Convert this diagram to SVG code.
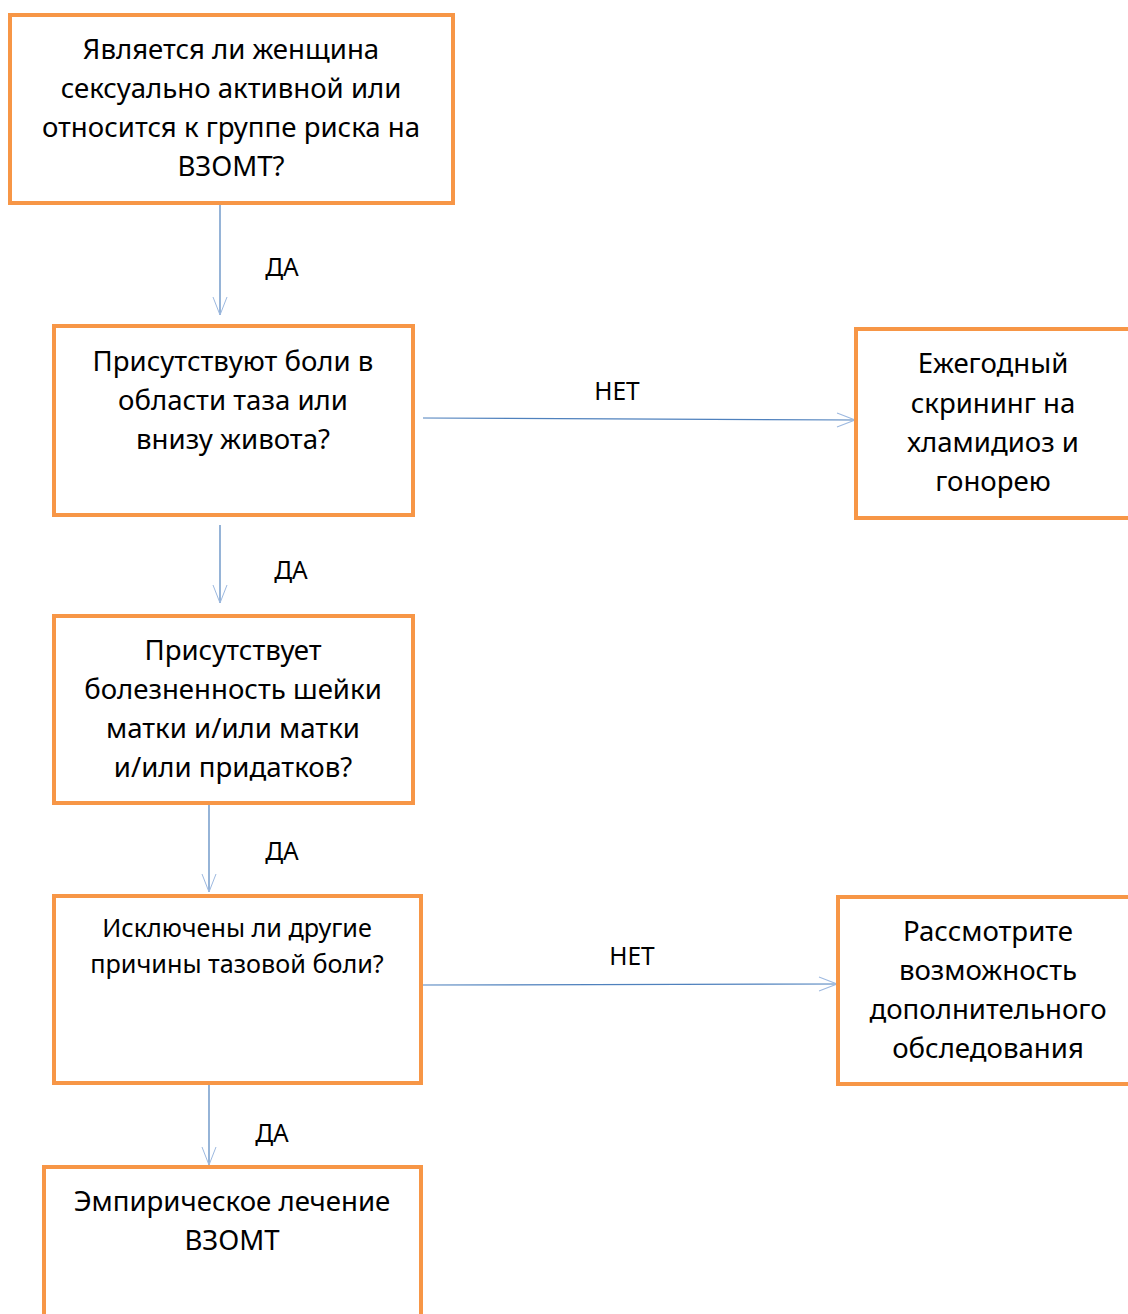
<svg xmlns="http://www.w3.org/2000/svg" width="1128" height="1314" viewBox="0 0 1128 1314">
<defs>
<style>
.box{fill:#fff;stroke:#F79646;stroke-width:4}
.t{font-family:"Noto Sans","Liberation Sans",sans-serif;font-size:27.6px;fill:#000;text-anchor:middle}
.s{font-size:25.2px}
.l{font-family:"Noto Sans","Liberation Sans",sans-serif;font-size:24.5px;fill:#000;text-anchor:middle}
.c{stroke:#4F81BD;stroke-width:1.2;fill:none}
</style>
<marker id="ah" viewBox="0 0 20 20" refX="19" refY="10" markerWidth="20" markerHeight="20" markerUnits="userSpaceOnUse" orient="auto">
<path d="M1,3 L19,10 L1,17" fill="none" stroke="#9DB9E0" stroke-width="1"/>
</marker>
</defs>
<rect width="1128" height="1314" fill="#fff"/>
<g id="connectors">
<line class="c" x1="220" y1="204" x2="220" y2="315" marker-end="url(#ah)"/>
<line class="c" x1="423" y1="418" x2="855" y2="420" marker-end="url(#ah)"/>
<line class="c" x1="220" y1="525" x2="220" y2="603" marker-end="url(#ah)"/>
<line class="c" x1="209" y1="805" x2="209" y2="892" marker-end="url(#ah)"/>
<line class="c" x1="423" y1="985" x2="837" y2="984" marker-end="url(#ah)"/>
<line class="c" x1="209" y1="1085" x2="209" y2="1165" marker-end="url(#ah)"/>
<text class="l" x="282" y="276">ДА</text>
<text class="l" x="617" y="400">НЕТ</text>
<text class="l" x="291" y="579">ДА</text>
<text class="l" x="282" y="860">ДА</text>
<text class="l" x="632" y="965">НЕТ</text>
<text class="l" x="272" y="1142">ДА</text>
</g>
<g id="n1">
<rect class="box" x="10" y="15" width="443" height="188"/>
<text class="t" x="231" y="59">Является ли женщина</text>
<text class="t" x="231" y="98">сексуально активной или</text>
<text class="t" x="231" y="137">относится к группе риска на</text>
<text class="t" x="231" y="176">ВЗОМТ?</text>
</g>
<g id="n2">
<rect class="box" x="54" y="326" width="359" height="189"/>
<text class="t" x="233" y="371">Присутствуют боли в</text>
<text class="t" x="233" y="410">области таза или</text>
<text class="t" x="233" y="449">внизу живота?</text>
</g>
<g id="n3">
<rect class="box" x="856" y="329" width="280" height="189"/>
<text class="t" x="993" y="373">Ежегодный</text>
<text class="t" x="993" y="413">скрининг на</text>
<text class="t" x="993" y="452">хламидиоз и</text>
<text class="t" x="993" y="491">гонорею</text>
</g>
<g id="n4">
<rect class="box" x="54" y="616" width="359" height="187"/>
<text class="t" x="233" y="660">Присутствует</text>
<text class="t" x="233" y="699">болезненность шейки</text>
<text class="t" x="233" y="738">матки и/или матки</text>
<text class="t" x="233" y="777">и/или придатков?</text>
</g>
<g id="n5">
<rect class="box" x="54" y="896" width="367" height="187"/>
<text class="t s" x="237" y="937">Исключены ли другие</text>
<text class="t s" x="237" y="973">причины тазовой боли?</text>
</g>
<g id="n6">
<rect class="box" x="838" y="897" width="300" height="187"/>
<text class="t" x="988" y="941">Рассмотрите</text>
<text class="t" x="988" y="980">возможность</text>
<text class="t" x="988" y="1019">дополнительного</text>
<text class="t" x="988" y="1058">обследования</text>
</g>
<g id="n7">
<rect class="box" x="44" y="1167" width="377" height="160"/>
<text class="t" x="232" y="1211">Эмпирическое лечение</text>
<text class="t" x="232" y="1250">ВЗОМТ</text>
</g>
</svg>
